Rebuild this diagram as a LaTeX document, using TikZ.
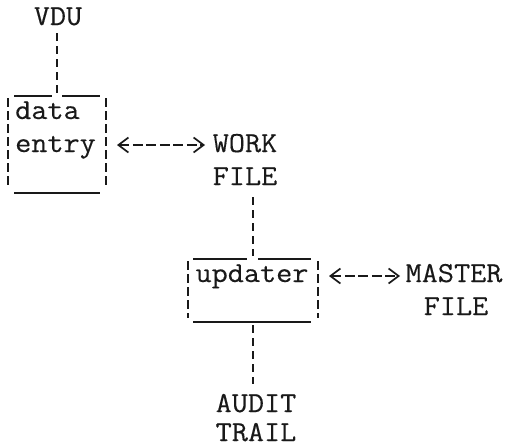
\documentclass[tikz,border=0pt]{standalone}
\usepackage{fontspec}
\setmonofont{Latin Modern Mono}[FakeStretch=1.08, FakeBold=0.3]
\usetikzlibrary{arrows.meta}
\begin{document}
\begin{tikzpicture}[x=1pt,y=-1pt,
  lbl/.style={font=\ttfamily\fontsize{29}{32}\selectfont, inner sep=0pt, anchor=base, text=black!90},
  vdash/.style={line width=2pt, dash pattern=on 8pt off 5pt, black!90},
  hdash/.style={line width=2pt, dash pattern=on 10pt off 3.5pt, black!90},
  rule/.style={line width=1.4pt, black!90},
  side/.style={line width=1.7pt, dash pattern=on 9pt off 4pt, black!90},
  chev/.style={{Straight Barb[length=10pt,width=15pt,line width=1.7pt]}-{Straight Barb[length=10pt,width=15pt,line width=1.7pt]}, shorten <=1pt, shorten >=1pt}
]
\useasboundingbox (0,0) rectangle (506,447);

% text labels
\node[lbl] (vdu) at (58,25) {VDU};
\node[lbl, anchor=base west] (data) at (15,119) {data};
\node[lbl, anchor=base west] (entry) at (15,152) {entry};
\node[lbl] (work) at (245,152) {WORK};
\node[lbl] (wfile) at (245,185) {FILE};
\node[lbl] (upd) at (252,282) {updater};
\node[lbl] (master) at (454,282) {MASTER};
\node[lbl] (mfile) at (456,315) {FILE};
\node[lbl] (audit) at (256,412) {AUDIT};
\node[lbl] (trail) at (256,441) {TRAIL};

% process boxes: solid top and bottom rules, dashed sides
\draw[rule] (14,96) -- (52,96) (62,96) -- (100,96);
\draw[rule] (14,193) -- (100,193);
\draw[side] (8,98) -- (8,186);
\draw[side] (106,98) -- (106,186);

\draw[rule] (193,259) -- (247,259) (258,259) -- (311,259);
\draw[rule] (193,322) -- (311,322);
\draw[side] (188,261) -- (188,318);
\draw[side] (318,261) -- (318,318);

% connection points
\coordinate (vdubot) at (57,33);
\coordinate (b1top) at (57,93);
\coordinate (b1right) at (116,145);
\coordinate (b2top) at (253,256);
\coordinate (b2bot) at (253,325);
\coordinate (b2right) at (328,276);
\coordinate (workleft) at (206,145);
\coordinate (masterleft) at (401,276);
\coordinate (wfilebot) at (253,197);
\coordinate (auditop) at (253,384);

% connectors
\draw[vdash] (vdubot) -- (b1top);
\draw[vdash] (wfilebot) -- (b2top);
\draw[vdash] (b2bot) -- (auditop);
\draw[hdash, chev] (b1right) -- (workleft);
\draw[hdash, chev] (b2right) -- (masterleft);
\end{tikzpicture}
\end{document}
